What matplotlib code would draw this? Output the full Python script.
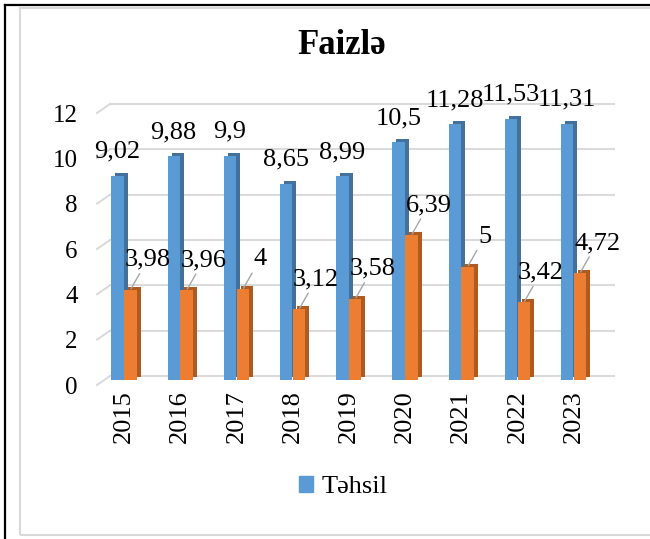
import numpy as np
import matplotlib
matplotlib.use('Agg')
import matplotlib.pyplot as plt
import matplotlib.transforms as mtransforms
from matplotlib.patches import Rectangle, Patch
from matplotlib.lines import Line2D

plt.rcParams['font.family'] = ['Liberation Serif', 'DejaVu Serif']

# data
years = ['2015', '2016', '2017', '2018', '2019', '2020', '2021', '2022', '2023']
tehsil = [9.02, 9.88, 9.9, 8.65, 8.99, 10.5, 11.28, 11.53, 11.31]
second = [3.98, 3.96, 4, 3.12, 3.58, 6.39, 5, 3.42, 4.72]
yticks = [0, 2, 4, 6, 8, 10, 12]

BLUE, BLUE_D = '#5b9bd5', '#41719c'
ORANGE, ORANGE_D = '#ed7d31', '#ae5a21'
GRID = '#d9d9d9'

W, H = 650, 539
fig = plt.figure(figsize=(6.5, 5.39), dpi=100)

# axes box in pixels (top-origin)
ax_l, ax_r, ax_b, ax_t = 97, 614, 385, 113
ax = fig.add_axes([ax_l / W, 1 - ax_b / H, (ax_r - ax_l) / W, (ax_b - ax_t) / H])
unit = 56.2                      # px per category
ypu = (ax_b - ax_t) / 12.0       # px per y unit
xl = (ax_l - 124) / unit
xr = xl + (ax_r - ax_l) / unit

def shift(dx, dy):
    return mtransforms.ScaledTranslation(dx / 100, dy / 100, fig.dpi_scale_trans)

# back wall gridlines + slanted stubs
for v in yticks:
    ax.plot([xl, xr - 13 / unit], [v, v], color=GRID, lw=1.4,
            transform=ax.transData + shift(13, 9), zorder=0, clip_on=False)
    ax.plot([xl, xl + 13 / unit], [v, v + 9 / ypu], color=GRID, lw=1.4,
            zorder=0, clip_on=False)

x = np.arange(len(years))
w = 0.22
bar_tr = ax.transData + shift(0, 5)
side_tr = ax.transData + shift(4, 8)

ax.bar(x - 0.115, tehsil, w, color=BLUE_D, transform=side_tr, zorder=2)
ax.bar(x - 0.115, tehsil, w, color=BLUE, transform=bar_tr, zorder=3)
ax.bar(x + 0.115, second, w, color=ORANGE_D, transform=side_tr, zorder=4)
ax.bar(x + 0.115, second, w, color=ORANGE, transform=bar_tr, zorder=5)

def fmt(v):
    return f'{v:g}'.replace('.', ',')

for i, v in enumerate(tehsil):
    ax.annotate(fmt(v), xy=(i - 0.115, v), xycoords=bar_tr,
                xytext=(0, 24), textcoords='offset pixels',
                ha='center', va='center', fontsize=19, zorder=6)

for i, v in enumerate(second):
    ax.annotate(fmt(v), xy=(i + 0.115, v), xycoords=bar_tr,
                xytext=(17, 30), textcoords='offset pixels',
                ha='center', va='center', fontsize=19, zorder=6,
                arrowprops=dict(arrowstyle='-', color='#a6a6a6', lw=1,
                                shrinkA=0, shrinkB=1))

ax.set_xlim(xl, xr)
ax.set_ylim(0, 12)
ax.set_yticks(yticks)
ax.set_yticklabels([str(t) for t in yticks])
ax.set_xticks(x)
ax.set_xticklabels(years, rotation=90)
ax.tick_params(axis='y', length=0, pad=14, labelsize=18)
ax.tick_params(axis='x', length=0, pad=4, labelsize=19)
for s in ax.spines.values():
    s.set_visible(False)
ax.patch.set_alpha(0)

fig.text(342 / W, 1 - 46 / H, 'Faizlə', ha='center', va='center',
         fontsize=25, fontweight='bold')

fig.legend(handles=[Patch(color=BLUE, label='Təhsil')], loc='center',
           bbox_to_anchor=(343 / W, 1 - 487 / H), frameon=False, fontsize=19,
           handlelength=0.55, handleheight=0.55, handletextpad=0.3)

# chart frame and page lines
fig.add_artist(Rectangle((20 / W, 1 - 535 / H), 1.0, (535 - 8) / H,
                         transform=fig.transFigure, fill=False,
                         edgecolor=GRID, lw=1.5))
fig.add_artist(Line2D([5 / W, 5 / W], [0, 1 - 5 / H], color='black', lw=1.6,
                      transform=fig.transFigure))
fig.add_artist(Line2D([5 / W, 1], [1 - 5 / H, 1 - 5 / H], color='black', lw=1.6,
                      transform=fig.transFigure))

fig.savefig('out.png', dpi=100)
